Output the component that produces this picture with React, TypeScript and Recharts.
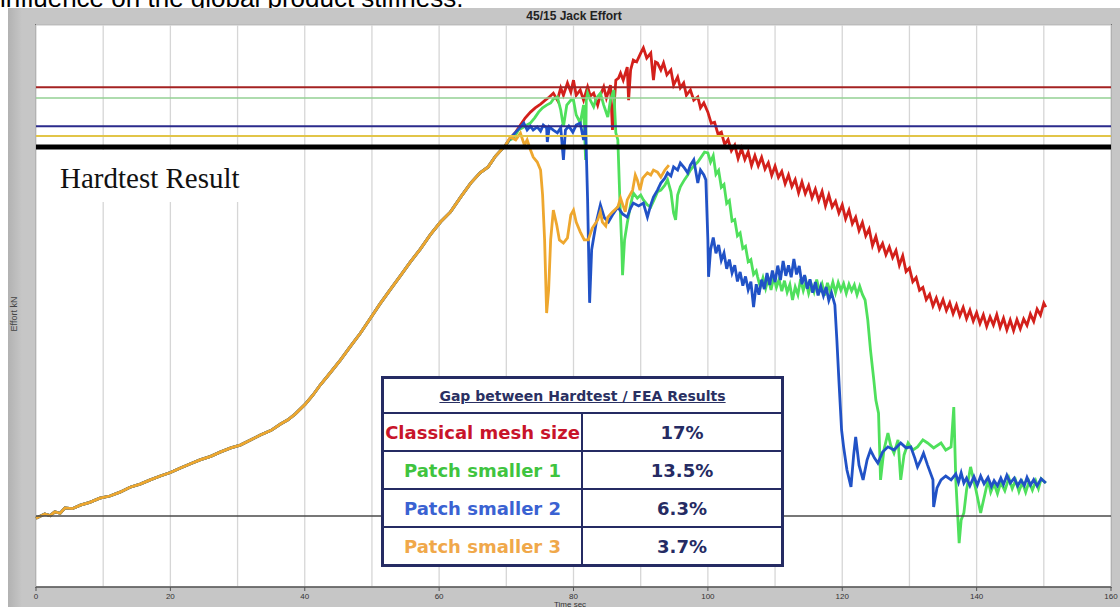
import { LineChart, Line, XAxis, YAxis, CartesianGrid, ReferenceLine } from 'recharts'

// time (sec), effort (kN) pairs
const rise = [
  [0, 19.6], [1.3, 20.8], [2.1, 20.3], [2.8, 21.4], [3.6, 21.0], [4.3, 22.5], [5.4, 22.3], [6.6, 23.3],
  [8.0, 24.1], [9.5, 25.3], [11.0, 25.9], [12.5, 27.0], [14.0, 28.4], [15.5, 29.3], [17.0, 30.5],
  [18.5, 31.6], [20.0, 32.6], [21.5, 33.9], [23.0, 35.1], [24.4, 36.2], [26.0, 37.2], [27.4, 38.4],
  [29.0, 39.6], [30.4, 40.4], [32.0, 41.9], [33.4, 43.3], [35.0, 44.6], [36.4, 46.4], [37.5, 47.6],
  [38.6, 49.3], [40.1, 52.1], [41.2, 54.6], [42.3, 57.5], [43.8, 61.0], [45.3, 64.6], [46.8, 68.5],
  [48.3, 72.3], [49.8, 76.6], [51.2, 80.6], [52.7, 84.6], [54.2, 88.5], [55.7, 92.5], [57.2, 96.2],
  [58.7, 100.3], [60.2, 103.9], [61.7, 106.8], [63.2, 111.0], [64.7, 115.0], [66.1, 117.9],
  [67.3, 119.6], [68.4, 122.7], [69.9, 125.8]
]

const classicalTail = [
  [70.6, 127.8], [71.4, 129.5], [72.1, 131.5], [72.8, 133.5], [73.6, 135.2], [74.3, 136.4], [75.1, 137.5],
  [75.8, 138.6], [76.4, 139.5], [77.0, 140.6], [77.6, 138.6], [78.1, 142.1], [78.5, 140.0], [79.1, 143.5],
  [79.6, 140.9], [80.0, 144.3], [80.4, 140.0], [81.0, 141.5], [81.5, 138.6], [82.1, 142.4], [82.5, 139.8],
  [83.0, 140.6], [83.6, 137.2], [84.0, 140.0], [84.5, 142.4], [84.9, 139.2], [85.5, 142.9], [85.8, 130.1],
  [86.0, 135.8], [86.3, 144.3], [86.7, 144.9], [87.0, 146.3], [87.4, 144.3], [88.0, 148.0], [88.2, 138.6],
  [88.5, 147.2], [88.9, 150.0], [89.4, 149.5], [90.0, 152.0], [90.4, 153.5], [90.9, 150.6], [91.5, 152.0],
  [91.9, 144.3], [92.2, 149.5], [92.5, 149.2], [93.0, 147.2], [93.4, 149.2], [93.9, 145.8], [94.5, 147.2],
  [94.9, 142.9], [95.5, 145.2], [95.9, 142.1], [96.4, 143.5], [96.8, 140.0], [97.4, 141.5], [97.9, 138.6],
  [98.5, 139.5], [98.9, 136.4], [99.4, 137.8], [100.0, 135.2], [100.5, 132.0], [101.0, 132.3],
  [101.5, 129.0], [102.0, 129.5], [102.5, 126.0], [103.0, 127.4], [103.5, 124.2], [104.0, 125.8],
  [104.5, 122.0], [105.0, 124.8], [105.5, 121.7], [106.0, 123.9], [106.5, 120.0], [107.0, 122.8],
  [107.5, 119.9], [108.0, 122.3], [108.5, 119.0], [109.0, 120.8], [109.5, 117.2], [110.0, 119.8],
  [110.5, 116.6], [111.0, 118.3], [111.5, 114.8], [112.0, 117.3], [112.5, 114.0], [113.0, 116.0],
  [113.5, 112.2], [114.0, 115.3], [114.5, 112.0], [115.0, 114.3], [115.5, 110.8], [116.0, 113.3],
  [116.5, 110.0], [117.0, 112.6], [117.5, 108.5], [118.0, 111.6], [118.5, 108.2], [119.0, 109.8],
  [119.5, 106.5], [120.0, 108.8], [120.5, 104.8], [121.0, 107.3], [121.5, 103.4], [122.0, 105.3],
  [122.5, 101.5], [123.0, 103.8], [123.5, 100.0], [124.0, 101.9], [124.5, 97.2], [125.0, 99.8],
  [125.5, 96.0], [126.0, 97.8], [126.5, 94.6], [127.0, 96.8], [127.5, 93.8], [128.0, 95.8], [128.5, 91.6],
  [129.0, 94.3], [129.5, 89.8], [130.0, 90.8], [130.5, 86.9], [131.0, 88.1], [131.5, 84.5], [132.0, 85.3],
  [132.5, 81.8], [133.0, 83.3], [133.5, 80.0], [134.0, 82.3], [134.5, 79.4], [135.0, 81.8], [135.5, 78.7],
  [136.0, 80.9], [136.5, 77.8], [137.0, 80.3], [137.5, 77.2], [138.0, 79.6], [138.5, 76.4], [139.0, 78.8],
  [139.5, 75.7], [140.0, 78.1], [140.5, 75.0], [141.0, 77.5], [141.5, 74.2], [142.0, 76.9], [142.5, 74.6],
  [143.0, 77.5], [143.5, 73.9], [144.0, 76.5], [144.5, 73.2], [145.0, 76.0], [145.5, 73.0], [146.0, 76.1],
  [146.5, 73.5], [147.0, 76.3], [147.5, 74.5], [148.0, 77.7], [148.5, 75.6], [149.0, 79.1], [149.5, 77.4],
  [150.0, 80.8], [150.3, 79.7]
]

const patch1Tail = [
  [70.5, 127.3], [71.1, 127.8], [71.8, 130.1], [72.4, 130.7], [73.0, 131.5], [73.6, 132.1], [74.2, 133.5],
  [74.8, 135.2], [75.4, 136.4], [76.0, 137.2], [76.6, 137.8], [77.0, 138.9], [77.6, 139.5], [78.1, 135.8],
  [78.5, 131.0], [79.0, 137.2], [79.6, 138.6], [80.0, 138.6], [80.4, 134.4], [81.0, 132.1], [81.5, 137.2],
  [81.8, 121.6], [81.9, 138.6], [82.1, 140.6], [82.5, 138.6], [83.0, 136.7], [83.4, 139.2], [84.0, 140.6],
  [84.5, 137.2], [85.1, 133.8], [85.5, 138.6], [86.0, 141.5], [86.3, 129.3], [86.6, 127.3], [86.9, 110.2],
  [87.2, 96.0], [87.3, 88.8], [87.6, 98.8], [88.0, 103.6], [88.5, 108.8], [88.9, 112.2], [89.5, 110.7],
  [90.0, 111.6], [90.4, 110.2], [91.0, 108.8], [91.5, 108.2], [92.1, 110.7], [92.5, 112.5], [93.0, 113.0],
  [93.6, 114.4], [94.0, 115.9], [94.5, 112.5], [94.9, 106.5], [95.2, 104.5], [95.5, 111.6], [95.9, 113.9],
  [96.5, 115.9], [97.0, 117.3], [97.4, 118.7], [98.0, 120.1], [98.5, 121.0], [98.9, 122.1], [99.5, 123.8],
  [100.0, 123.6], [100.4, 121.0], [100.8, 122.8], [101.2, 117.5], [101.6, 118.6], [102.0, 113.8],
  [102.4, 114.6], [102.8, 109.2], [103.2, 110.0], [103.6, 104.2], [104.0, 104.6], [104.4, 100.0],
  [104.8, 100.8], [105.2, 96.4], [105.6, 97.0], [106.0, 92.6], [106.4, 93.2], [106.8, 89.0], [107.2, 90.0],
  [107.4, 88.3], [107.8, 85.4], [108.2, 88.0], [108.6, 85.0], [109.0, 87.9], [109.4, 84.6], [109.8, 88.2],
  [110.2, 85.3], [110.6, 87.6], [111.0, 84.2], [111.4, 87.2], [111.8, 83.9], [112.2, 86.1], [112.6, 81.7],
  [113.0, 85.4], [113.4, 83.2], [113.8, 87.6], [114.2, 84.4], [114.6, 87.0], [115.0, 83.6], [115.4, 86.2],
  [115.8, 84.0], [116.2, 87.5], [116.6, 84.2], [117.0, 86.3], [117.4, 83.0], [117.8, 86.6], [118.2, 84.0],
  [118.6, 86.8], [119.0, 83.8], [119.4, 86.7], [119.8, 84.5], [120.2, 86.4], [120.6, 83.6], [121.0, 86.2],
  [121.4, 84.3], [121.8, 86.0], [122.2, 83.2], [122.6, 85.6], [123.0, 83.3], [123.4, 81.7],
  [123.8, 76.0], [124.2, 67.5], [124.7, 58.9], [125.0, 53.2], [125.4, 49.5], [125.7, 30.5], [126.2, 39.0],
  [126.8, 43.8], [127.2, 40.4], [127.7, 38.1], [128.3, 41.9], [128.7, 30.5], [129.2, 37.6], [129.8, 41.0],
  [130.5, 39.0], [131.2, 39.9], [132.0, 41.9], [132.7, 41.0], [133.6, 39.6], [134.7, 41.0], [135.4, 39.0],
  [136.2, 39.9], [136.6, 51.2], [136.9, 30.5], [137.4, 12.5], [137.7, 19.1], [138.1, 21.1], [138.5, 27.6],
  [139.1, 34.2], [139.9, 27.6], [140.6, 21.1], [141.2, 26.2], [141.7, 30.5], [142.1, 27.0], [142.6, 29.4],
  [143.1, 26.6], [143.6, 29.8], [144.2, 27.4], [144.8, 31.0], [145.3, 28.0], [145.8, 30.4], [146.3, 27.2],
  [146.8, 29.8], [147.3, 27.0], [147.8, 30.0], [148.3, 27.6], [148.8, 30.2], [149.2, 28.0], [149.6, 30.8],
  [150.3, 29.6]
]

const patch2Tail = [
  [70.6, 127.8], [71.4, 129.5], [72.0, 130.7], [72.6, 132.1], [73.1, 130.1], [73.6, 131.2], [74.0, 130.1],
  [74.6, 131.0], [75.1, 129.8], [75.5, 131.5], [76.0, 130.7], [76.1, 126.7], [76.4, 131.0], [77.0, 130.1],
  [77.6, 129.3], [78.1, 130.7], [78.5, 121.6], [78.8, 130.1], [79.3, 131.2], [79.9, 129.5], [80.4, 131.5],
  [81.0, 132.1], [81.5, 127.3], [81.8, 131.5], [82.1, 110.1], [82.4, 80.9], [82.7, 96.0], [83.0, 99.4],
  [83.4, 103.9], [84.0, 108.8], [84.6, 105.1], [85.2, 103.9], [85.8, 105.9], [86.6, 108.2], [87.3, 106.2],
  [88.0, 105.3], [88.5, 107.9], [88.9, 109.3], [89.7, 108.5], [90.4, 109.3], [91.0, 105.3], [91.5, 108.8],
  [91.9, 111.0], [92.5, 113.0], [93.0, 115.0], [93.6, 116.4], [94.0, 117.9], [94.5, 117.0], [94.9, 119.6],
  [95.5, 118.7], [95.9, 120.7], [96.5, 119.3], [97.0, 117.9], [97.4, 120.1], [97.9, 121.6], [98.5, 115.0],
  [98.9, 118.7], [99.4, 117.3], [99.7, 115.9], [100.0, 98.8], [100.1, 88.3], [100.4, 96.0], [100.8, 99.5],
  [101.2, 95.0], [101.6, 97.4], [102.0, 93.0], [102.4, 95.1], [102.8, 90.6], [103.2, 93.2], [103.6, 89.4],
  [104.0, 91.6], [104.4, 87.0], [104.8, 89.7], [105.2, 85.8], [105.6, 88.4], [106.0, 84.6], [106.4, 86.9],
  [106.8, 79.7], [107.2, 86.2], [107.6, 83.2], [108.0, 87.5], [108.4, 84.8], [108.8, 89.4], [109.2, 86.0],
  [109.6, 90.1], [110.0, 86.8], [110.4, 91.5], [110.8, 87.4], [111.2, 92.8], [111.6, 88.6], [112.0, 91.6],
  [112.4, 88.2], [112.8, 93.4], [113.2, 89.0], [113.6, 91.4], [114.0, 86.2], [114.4, 88.8], [114.8, 84.9],
  [115.2, 87.6], [115.6, 83.8], [116.0, 86.8], [116.4, 83.0], [116.8, 85.6], [117.2, 82.9], [117.6, 85.4],
  [118.0, 81.6], [118.4, 83.8], [118.9, 80.3], [119.2, 70.3], [119.5, 58.9], [119.9, 44.7], [120.2, 39.9],
  [120.7, 33.3], [121.3, 28.5], [121.7, 37.6], [122.0, 42.7], [122.5, 34.7], [123.1, 30.5], [123.7, 36.2],
  [124.2, 39.0], [124.8, 36.7], [125.3, 35.3], [126.0, 38.4], [126.8, 39.9], [127.7, 39.0], [128.7, 41.0],
  [129.5, 39.6], [130.2, 39.9], [130.8, 36.7], [131.2, 34.2], [131.7, 36.2], [132.1, 38.1], [132.7, 34.7],
  [133.5, 30.5], [133.6, 22.8], [134.1, 28.2], [134.7, 30.5], [135.4, 31.6], [136.2, 30.5], [136.9, 32.2],
  [137.3, 29.8], [137.7, 32.5], [138.1, 29.6], [138.5, 31.0], [139.0, 28.8], [139.6, 31.4], [140.1, 29.0],
  [140.6, 31.6], [141.1, 29.4], [141.7, 31.2], [142.2, 28.6], [142.6, 30.3], [143.1, 28.8], [143.6, 31.0],
  [144.0, 29.2], [144.5, 31.8], [145.0, 29.6], [145.6, 31.0], [146.1, 28.8], [146.6, 30.4], [147.1, 28.9],
  [147.5, 31.2], [148.0, 29.0], [148.5, 30.6], [149.0, 28.8], [149.6, 30.8], [150.3, 29.6]
]

const patch3Tail = [
  [70.6, 128.1], [71.4, 127.3], [72.1, 129.2], [72.7, 125.8], [73.1, 127.3], [73.6, 124.4], [74.0, 122.4],
  [74.6, 121.0], [75.1, 118.7], [75.4, 111.6], [75.7, 98.8], [76.0, 78.0], [76.3, 84.6], [76.6, 98.8],
  [77.0, 107.3], [77.5, 103.1], [77.9, 98.8], [78.5, 97.9], [79.1, 99.4], [79.6, 105.9], [80.0, 107.3],
  [80.4, 103.9], [81.0, 101.1], [81.6, 98.8], [82.2, 98.8], [82.8, 102.2], [83.6, 104.5], [84.0, 106.8],
  [84.3, 103.9], [84.8, 102.8], [85.1, 105.3], [85.8, 106.8], [86.6, 108.2], [87.0, 110.7], [87.3, 109.0],
  [87.7, 106.8], [88.0, 110.2], [88.8, 113.0], [89.2, 117.3], [89.5, 115.9], [89.9, 113.0], [90.3, 116.4],
  [91.0, 117.9], [91.5, 117.3], [91.9, 118.7], [92.5, 118.1], [93.0, 116.7], [93.6, 118.7], [94.2, 120.1]
]

const seriesNames = ['Classical mesh size', 'Patch smaller 1', 'Patch smaller 2', 'Patch smaller 3']
const seriesColors = ['#d3201b', '#4fe05c', '#2152c6', '#eea72e']
const seriesTails = [classicalTail, patch1Tail, patch2Tail, patch3Tail]

// FEA peak levels and the hardtest result (kN)
const levelValues = [142.3, 139.2, 131.2, 128.4, 125.3, 20.2]
const levelColors = ['#a42222', '#93d093', '#2b2b8c', '#e2c548', '#000000', '#4a4a4a']
const levelWidths = [2, 1.5, 2, 2, 5, 1.5]

const gapValues = ['17%', '13.5%', '6.3%', '3.7%']
const labelColors = ['#c8142a', '#3fc43f', '#3a62d2', '#f0a84a']

const xTicks = [0, 10, 20, 30, 40, 50, 60, 70, 80, 90, 100, 110, 120, 130, 140, 150, 160]
const yTicks = [0, 10, 20, 30, 40, 50, 60, 70, 80, 90, 100, 110, 120, 130, 140, 150, 160]

const toPoints = (arr: number[][]) => arr.map(([t, y]) => ({ t, y }))

function TimeTick({ x, y, payload }: any) {
  if (payload.value % 20 !== 0) return <g />
  return (
    <g>
      <line x1={x} x2={x} y1={y - 6} y2={y - 2} stroke="#555" />
      <text x={x} y={y} dy="0.71em" textAnchor="middle" fontSize={8} fill="#333" fontFamily="Liberation Sans, Arial">
        {payload.value}
      </text>
    </g>
  )
}

const navy = '#252b63'

export default function App() {
  return (
    <div style={{ position: 'absolute', left: 0, top: 0, width: 1120, height: 607, overflow: 'hidden', background: '#fff' }}>
      <div style={{ position: 'absolute', left: 0, top: -15, fontFamily: 'Liberation Sans, Arial', fontSize: 26, lineHeight: '26px', color: '#000', whiteSpace: 'nowrap' }}>
        influence on the global product stiffness.
      </div>
      <div style={{ position: 'absolute', left: 8, top: 8, right: 0, bottom: 0, background: 'linear-gradient(to right, #b2b2b2 0px, #c6c6c6 14px, #c6c6c6 100%)' }} />
      <div style={{ position: 'absolute', left: 35, top: 24, width: 1075, height: 562, border: '1px solid #707070', background: '#fff' }} />
      <div style={{ position: 'absolute', left: 374, width: 400, top: 9, textAlign: 'center', fontFamily: 'Liberation Sans, Arial', fontWeight: 'bold', fontSize: 12, color: '#222' }}>
        45/15 Jack Effort
      </div>
      <div style={{ position: 'absolute', left: -16, top: 309, width: 60, textAlign: 'center', transform: 'rotate(-90deg)', fontFamily: 'Liberation Sans, Arial', fontSize: 9, color: '#444' }}>
        Effort kN
      </div>
      <div style={{ position: 'absolute', left: 470, width: 200, top: 600, textAlign: 'center', fontFamily: 'Liberation Sans, Arial', fontSize: 8, color: '#333' }}>
        Time sec
      </div>

      <div style={{ position: 'absolute', left: 0, top: 0 }}>
        <LineChart width={1120} height={607} margin={{ top: 25, right: 9, left: 36, bottom: 0 }}>
          <CartesianGrid stroke="#d6d6d6" strokeWidth={1.3} />
          <XAxis
            type="number"
            dataKey="t"
            domain={[0, 160]}
            ticks={xTicks}
            interval={0}
            height={20}
            tickSize={4}
            tickMargin={2}
            tickLine={false}
            tick={<TimeTick />}
            axisLine={{ stroke: '#555', strokeWidth: 1.5 }}
          />
          <YAxis
            type="number"
            domain={[0, 160]}
            ticks={yTicks}
            width={0}
            tick={false}
            tickLine={false}
            axisLine={{ stroke: '#555', strokeWidth: 1.5 }}
          />
          {seriesTails.map((tail, i) => (
            <Line
              key={seriesNames[i]}
              name={seriesNames[i]}
              data={toPoints([...rise, ...tail])}
              dataKey="y"
              type="linear"
              stroke={seriesColors[i]}
              strokeWidth={2.8}
              dot={false}
              isAnimationActive={false}
            />
          ))}
          {levelValues.map((v, i) => (
            <ReferenceLine key={i} y={v} stroke={levelColors[i]} strokeWidth={levelWidths[i]} />
          ))}
        </LineChart>
      </div>

      <div style={{ position: 'absolute', left: 37, top: 150, width: 254, height: 52, background: '#fff' }}>
        <div style={{ position: 'absolute', left: 23, top: 14, fontFamily: 'Liberation Serif, Times New Roman', fontSize: 29, lineHeight: '29px', color: '#111', whiteSpace: 'nowrap' }}>
          Hardtest Result
        </div>
      </div>

      <div style={{ position: 'absolute', left: 381, top: 376, width: 403, height: 191, boxSizing: 'border-box', border: `3px solid ${navy}`, background: '#fff', fontFamily: 'DejaVu Sans', fontWeight: 'bold' }}>
        <div style={{ height: 35, boxSizing: 'border-box', borderBottom: `2px solid ${navy}`, display: 'flex', alignItems: 'center', justifyContent: 'center', fontSize: 14, color: '#2a3062', textDecoration: 'underline' }}>
          Gap between Hardtest / FEA Results
        </div>
        {gapValues.map((g, i) => (
          <div key={i} style={{ height: i < 3 ? 38 : 36, boxSizing: 'border-box', borderBottom: i < 3 ? `2px solid ${navy}` : 'none', display: 'flex' }}>
            <div style={{ width: 199, boxSizing: 'border-box', borderRight: `2px solid ${navy}`, display: 'flex', alignItems: 'center', justifyContent: 'center', fontSize: 18, color: labelColors[i], whiteSpace: 'nowrap' }}>
              {seriesNames[i]}
            </div>
            <div style={{ flex: 1, display: 'flex', alignItems: 'center', justifyContent: 'center', fontSize: 18, color: navy }}>
              {g}
            </div>
          </div>
        ))}
      </div>
    </div>
  )
}
